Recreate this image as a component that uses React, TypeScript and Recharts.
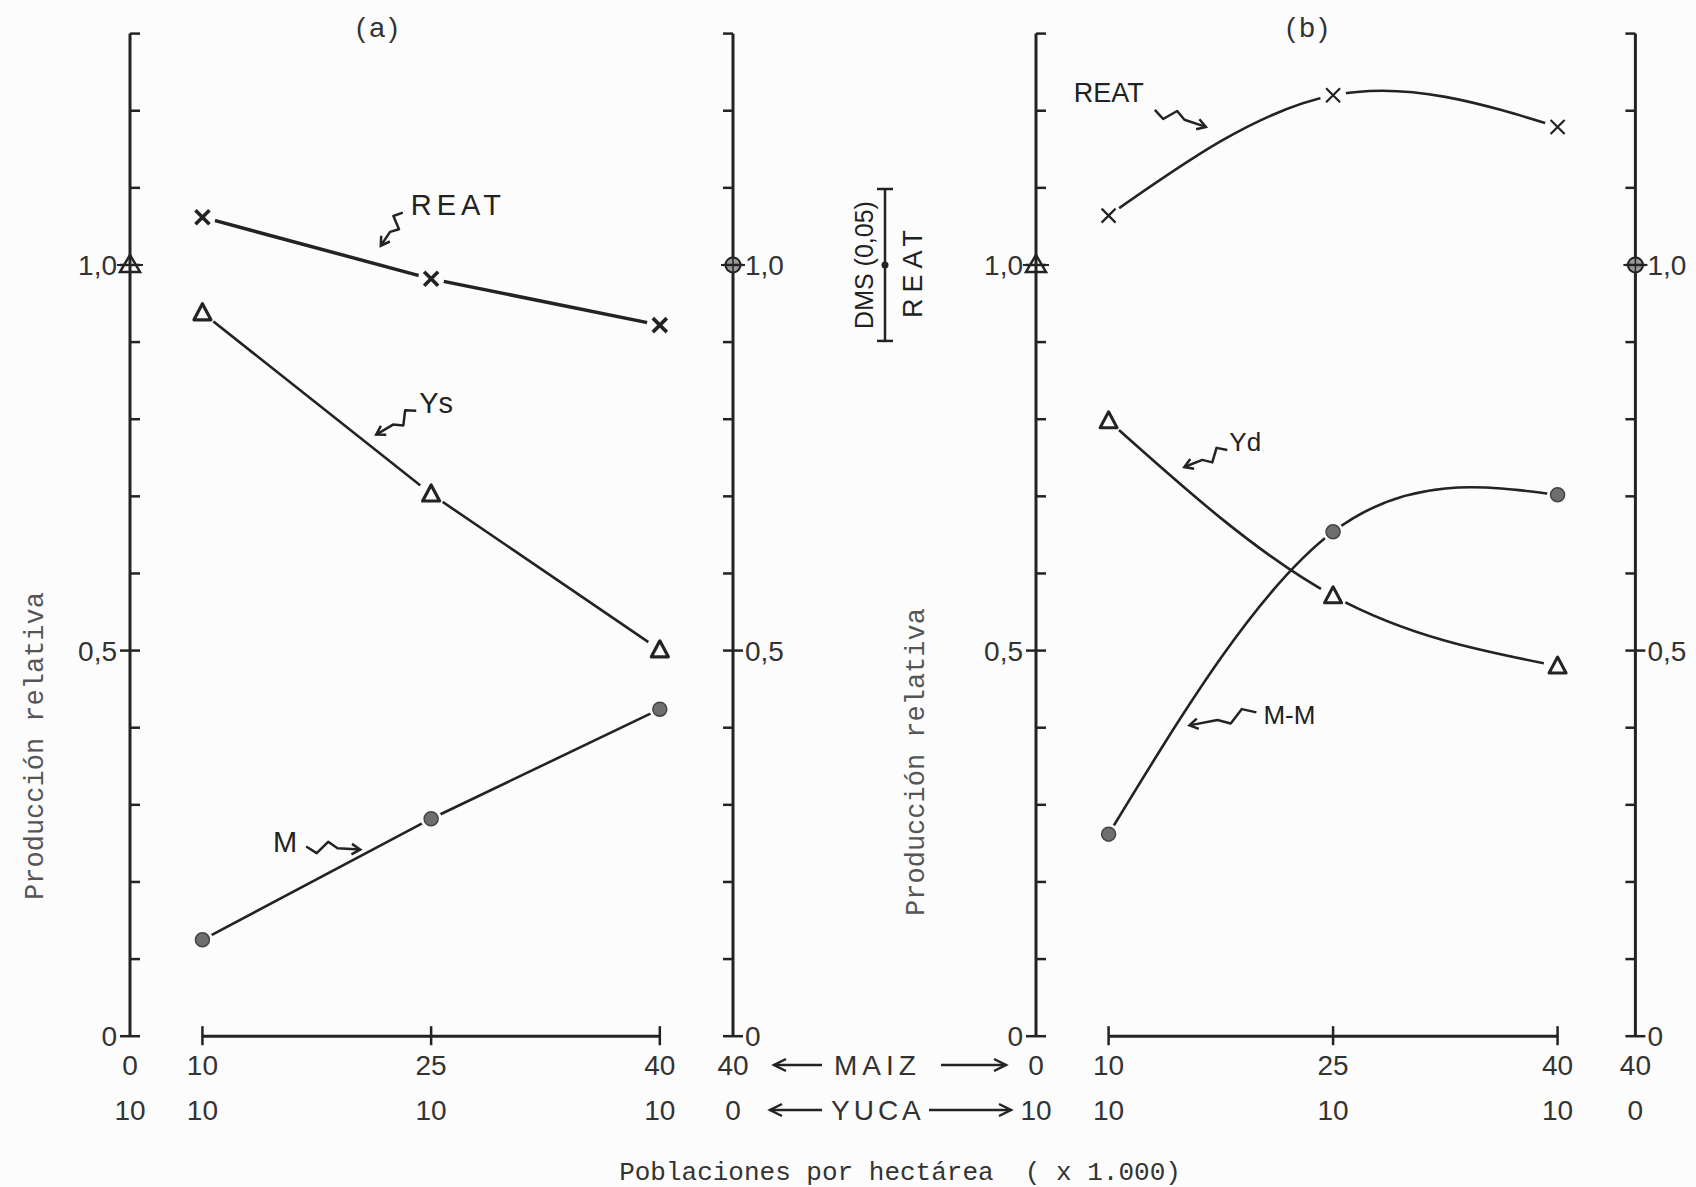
import React from "react";
import { LineChart, Line, XAxis, YAxis, ReferenceLine, ReferenceDot } from "recharts";

// poblaciones de maiz (x 1.000) en las asociaciones
const maiz = [10, 25, 40];

// (a) produccion relativa
const reatA = [1.062, 0.982, 0.922];
const ysA = [0.938, 0.703, 0.501];
const mA = [0.125, 0.282, 0.424];

// (b) produccion relativa
const reatB = [1.064, 1.22, 1.179];
const ydB = [0.798, 0.571, 0.48];
const mmB = [0.262, 0.654, 0.702];

// monocultivos (= 1,0)
const yucaSola = 1.0;
const maizSolo = 1.0;

// etiquetas del eje x (dos filas)
const maizLabels = ["0", "10", "25", "40", "40"];
const yucaLabels = ["10", "10", "10", "10", "0"];

const yTicks = [0, 0.1, 0.2, 0.3, 0.4, 0.5, 0.6, 0.7, 0.8, 0.9, 1.0, 1.1, 1.2, 1.3];
const yLabels: Record<string, string> = { "0": "0", "0.5": "0,5", "1": "1,0" };

const dms = 0.197;

const INK = "#232323";
const BG = "#fcfcfc";
const SANS = "'Liberation Sans', Arial, sans-serif";
const MONO = "'Liberation Mono', 'Courier New', monospace";

const TOP = 33.6;
const BOTTOM = 1036.2;
const H = 1187;
const Y_MAX = 1.3;

const domA: [number, number] = [5.25, 44.8];
const domB: [number, number] = [5.15, 45.2];

const rowsA = maiz.map((m, i) => ({ maiz: m, reat: reatA[i], ys: ysA[i], m: mA[i] }));
const rowsB = maiz.map((m, i) => ({ maiz: m, reat: reatB[i], yd: ydB[i], mm: mmB[i] }));

const notesA = [
  { x: 21.7, y: 1.025, text: "REAT", sx: 22, sy: -33, tx: 30, ty: -41, anchor: "start", ls: 5, fs: 29 },
  { x: 21.4, y: 0.78, text: "Ys", sx: 40, sy: -24, tx: 43, ty: -32, anchor: "start", ls: 0, fs: 29 },
  { x: 20.35, y: 0.242, text: "M", sx: -54, sy: -3, tx: -63, ty: -8, anchor: "end", ls: 0, fs: 29 },
];
const notesB = [
  { x: 16.5, y: 1.179, text: "REAT", sx: -51, sy: -17, tx: -132, ty: -35, anchor: "start", ls: 0, fs: 27 },
  { x: 15.06, y: 0.738, text: "Yd", sx: 43, sy: -17, tx: 45, ty: -25, anchor: "start", ls: 0, fs: 26 },
  { x: 15.4, y: 0.403, text: "M-M", sx: 67, sy: -13, tx: 74, ty: -11, anchor: "start", ls: 0, fs: 26 },
];

// ticks of both vertical axes; span = distance to the right-hand axis
function SideTicks(props: any) {
  const { x, y, payload, span } = props;
  const lab = yLabels[String(payload.value)];
  const rx = x + span;
  return (
    <g>
      <line x1={lab ? x - 10 : x} x2={x + 10} y1={y} y2={y} stroke={INK} strokeWidth={2.5} />
      {lab && (
        <text x={x - 13} y={y} dy="0.36em" textAnchor="end" fontFamily={SANS} fontSize={28} fill="#333">
          {lab}
        </text>
      )}
      <line x1={rx - 10} x2={lab ? rx + 10 : rx} y1={y} y2={y} stroke={INK} strokeWidth={2.5} />
      {lab && (
        <text x={rx + 12} y={y} dy="0.36em" textAnchor="start" fontFamily={SANS} fontSize={28} fill="#333">
          {lab}
        </text>
      )}
    </g>
  );
}

function BottomTick(props: any) {
  const { x, y, index } = props;
  const inner = index > 0 && index < maizLabels.length - 1;
  return (
    <g>
      {inner && <line x1={x} x2={x} y1={y - 10} y2={y + 9} stroke={INK} strokeWidth={2.5} />}
      <text x={x} y={y + 29} dy="0.36em" textAnchor="middle" fontFamily={SANS} fontSize={28} fill="#333">
        {maizLabels[index]}
      </text>
      <text x={x} y={y + 74} dy="0.36em" textAnchor="middle" fontFamily={SANS} fontSize={28} fill="#333">
        {yucaLabels[index]}
      </text>
    </g>
  );
}

function xMark(w: number) {
  return (p: any) => {
    const { cx, cy, index } = p;
    const s = 7;
    return (
      <g key={`x-${index}`}>
        <circle cx={cx} cy={cy} r={13} fill={BG} />
        <path d={`M${cx - s},${cy - s}L${cx + s},${cy + s}M${cx - s},${cy + s}L${cx + s},${cy - s}`} stroke={INK} strokeWidth={w} />
      </g>
    );
  };
}

function triMark(w: number) {
  return (p: any) => {
    const { cx, cy, index } = p;
    return (
      <g key={`t-${index}`}>
        <circle cx={cx} cy={cy} r={14} fill={BG} />
        <path d={`M${cx},${cy - 9}L${cx - 8.5},${cy + 7}L${cx + 8.5},${cy + 7}Z`} fill="none" stroke={INK} strokeWidth={w} strokeLinejoin="round" />
      </g>
    );
  };
}

function dotMark(p: any) {
  const { cx, cy, index } = p;
  return (
    <g key={`c-${index}`}>
      <circle cx={cx} cy={cy} r={10.5} fill={BG} />
      <circle cx={cx} cy={cy} r={7} fill="#6e6e6e" stroke="#444" strokeWidth={1.5} />
    </g>
  );
}

function AxisTri(p: any) {
  const { cx, cy } = p;
  return (
    <g>
      <line x1={cx - 13} x2={cx + 13} y1={cy} y2={cy} stroke={INK} strokeWidth={2} />
      <path d={`M${cx},${cy - 10}L${cx - 10},${cy + 7}L${cx + 10},${cy + 7}Z`} fill="none" stroke={INK} strokeWidth={2.5} />
    </g>
  );
}

function AxisCirc(p: any) {
  const { cx, cy } = p;
  return (
    <g>
      <circle cx={cx} cy={cy} r={7.5} fill="#999" stroke={INK} strokeWidth={2} />
      <line x1={cx - 12} x2={cx + 12} y1={cy} y2={cy} stroke={INK} strokeWidth={2} />
      <line x1={cx} x2={cx} y1={cy - 7} y2={cy + 7} stroke={INK} strokeWidth={1.5} />
    </g>
  );
}

function noteShape(n: any) {
  return (p: any) => {
    const { cx, cy } = p;
    const L = Math.hypot(n.sx, n.sy);
    const ux = -n.sx / L;
    const uy = -n.sy / L;
    const px = -uy;
    const py = ux;
    const a = 6;
    const P = (t: number, o: number) =>
      `${cx + n.sx + ux * L * t + px * o},${cy + n.sy + uy * L * t + py * o}`;
    const d = `M${P(0, 0)}L${P(0.2, a)}L${P(0.4, -a)}L${P(0.58, 0)}L${cx},${cy}`;
    const ang = Math.atan2(-uy, -ux);
    const h = 10;
    const h1x = cx + h * Math.cos(ang + 0.55);
    const h1y = cy + h * Math.sin(ang + 0.55);
    const h2x = cx + h * Math.cos(ang - 0.55);
    const h2y = cy + h * Math.sin(ang - 0.55);
    return (
      <g>
        <path d={d} fill="none" stroke={INK} strokeWidth={2.5} strokeLinejoin="round" />
        <path d={`M${h1x},${h1y}L${cx},${cy}L${h2x},${h2y}`} fill="none" stroke={INK} strokeWidth={2.5} />
        <text x={cx + n.tx} y={cy + n.ty} dy="0.36em" textAnchor={n.anchor} fontFamily={SANS}
          fontSize={n.fs} letterSpacing={n.ls} fill="#222">
          {n.text}
        </text>
      </g>
    );
  };
}

function yPix(v: number) {
  return TOP + ((Y_MAX - v) / Y_MAX) * (BOTTOM - TOP);
}

function ArrowH({ x1, x2, y }: { x1: number; x2: number; y: number }) {
  const dir = Math.sign(x2 - x1);
  return (
    <g stroke={INK} strokeWidth={2.5} fill="none">
      <line x1={x1} x2={x2} y1={y} y2={y} />
      <path d={`M${x2 - dir * 12},${y - 6}L${x2},${y}L${x2 - dir * 12},${y + 6}`} />
    </g>
  );
}

const axisLine = { stroke: INK, strokeWidth: 3 };

export default function App() {
  const common = { top: TOP, right: 0, bottom: 0, left: 0 };
  const dTop = yPix(1 + dms / 2);
  const dBot = yPix(1 - dms / 2);
  const dMid = yPix(1);
  return (
    <div style={{ position: "absolute", left: 0, top: 0, width: 1696, height: H, background: BG, overflow: "hidden" }}>
      <div style={{ position: "absolute", left: 0, top: 0 }}>
        <LineChart width={880} height={H} data={rowsA} margin={common}>
          <XAxis dataKey="maiz" type="number" domain={domA} ticks={[domA[0], 10, 25, 40, domA[1]]} interval={0}
            axisLine={false} tickLine={false} tickSize={0} tickMargin={0} height={H - BOTTOM} tick={<BottomTick />} />
          <YAxis yAxisId="l" orientation="left" width={130} domain={[0, Y_MAX]} ticks={yTicks} interval={0}
            axisLine={axisLine} tickLine={false} tickSize={0} tickMargin={0} tick={<SideTicks span={603} />} />
          <YAxis yAxisId="r" orientation="right" width={147} domain={[0, Y_MAX]} ticks={yTicks}
            axisLine={axisLine} tickLine={false} tick={false} />
          <ReferenceLine yAxisId="l" segment={[{ x: 10, y: 0 }, { x: 40, y: 0 }]} stroke={INK} strokeWidth={3} />
          <Line yAxisId="l" dataKey="reat" stroke={INK} strokeWidth={3.5} dot={xMark(3.6)} isAnimationActive={false} />
          <Line yAxisId="l" dataKey="ys" stroke={INK} strokeWidth={2.6} dot={triMark(3.2)} isAnimationActive={false} />
          <Line yAxisId="l" dataKey="m" stroke={INK} strokeWidth={2.6} dot={dotMark} isAnimationActive={false} />
          <ReferenceDot yAxisId="l" x={domA[0]} y={yucaSola} shape={AxisTri} />
          <ReferenceDot yAxisId="l" x={domA[1]} y={maizSolo} shape={AxisCirc} />
          {notesA.map((n) => (
            <ReferenceDot key={n.text} yAxisId="l" x={n.x} y={n.y} shape={noteShape(n)} />
          ))}
        </LineChart>
      </div>
      <div style={{ position: "absolute", left: 880, top: 0 }}>
        <LineChart width={816} height={H} data={rowsB} margin={common}>
          <XAxis dataKey="maiz" type="number" domain={domB} ticks={[domB[0], 10, 25, 40, domB[1]]} interval={0}
            axisLine={false} tickLine={false} tickSize={0} tickMargin={0} height={H - BOTTOM} tick={<BottomTick />} />
          <YAxis yAxisId="l" orientation="left" width={156} domain={[0, Y_MAX]} ticks={yTicks} interval={0}
            axisLine={axisLine} tickLine={false} tickSize={0} tickMargin={0} tick={<SideTicks span={599.4} />} />
          <YAxis yAxisId="r" orientation="right" width={60.6} domain={[0, Y_MAX]} ticks={yTicks}
            axisLine={axisLine} tickLine={false} tick={false} />
          <ReferenceLine yAxisId="l" segment={[{ x: 10, y: 0 }, { x: 40, y: 0 }]} stroke={INK} strokeWidth={3} />
          <Line yAxisId="l" type="natural" dataKey="reat" stroke={INK} strokeWidth={2.6} dot={xMark(2.2)} isAnimationActive={false} />
          <Line yAxisId="l" type="natural" dataKey="yd" stroke={INK} strokeWidth={2.6} dot={triMark(3)} isAnimationActive={false} />
          <Line yAxisId="l" type="natural" dataKey="mm" stroke={INK} strokeWidth={2.6} dot={dotMark} isAnimationActive={false} />
          <ReferenceDot yAxisId="l" x={domB[0]} y={yucaSola} shape={AxisTri} />
          <ReferenceDot yAxisId="l" x={domB[1]} y={maizSolo} shape={AxisCirc} />
          {notesB.map((n) => (
            <ReferenceDot key={n.text} yAxisId="l" x={n.x} y={n.y} shape={noteShape(n)} />
          ))}
        </LineChart>
      </div>
      <svg width={1696} height={H} style={{ position: "absolute", left: 0, top: 0, pointerEvents: "none" }}>
        <text x={379} y={27} dy="0.36em" textAnchor="middle" fontFamily={SANS} fontSize={28} fill="#333" letterSpacing={4}>(a)</text>
        <text x={1309} y={27} dy="0.36em" textAnchor="middle" fontFamily={SANS} fontSize={28} fill="#333" letterSpacing={4}>(b)</text>
        <text transform="translate(33,746) rotate(-90)" dy="0.36em" textAnchor="middle" fontFamily={MONO} fontSize={27} fill="#555">
          Producción relativa
        </text>
        <text transform="translate(914,762) rotate(-90)" dy="0.36em" textAnchor="middle" fontFamily={MONO} fontSize={27} fill="#555">
          Producción relativa
        </text>
        <text x={900} y={1171} dy="0.36em" textAnchor="middle" fontFamily={MONO} fontSize={26} fill="#333" xmlSpace="preserve">
          Poblaciones por hectárea  ( x 1.000)
        </text>
        <ArrowH x1={822} x2={774} y={1065} />
        <text x={834} y={1065} dy="0.36em" textAnchor="start" fontFamily={SANS} fontSize={28} fill="#333" letterSpacing={5}>MAIZ</text>
        <ArrowH x1={941} x2={1006} y={1065} />
        <ArrowH x1={822} x2={770} y={1110} />
        <text x={831} y={1110} dy="0.36em" textAnchor="start" fontFamily={SANS} fontSize={28} fill="#333" letterSpacing={4}>YUCA</text>
        <ArrowH x1={929} x2={1011} y={1110} />
        <g stroke={INK} strokeWidth={2.5}>
          <line x1={885} x2={885} y1={dTop} y2={dBot} />
          <line x1={877} x2={893} y1={dTop} y2={dTop} />
          <line x1={877} x2={893} y1={dBot} y2={dBot} />
        </g>
        <circle cx={885} cy={dMid} r={3.5} fill={INK} />
        <text transform={`translate(864,${dMid}) rotate(-90)`} dy="0.36em" textAnchor="middle" fontFamily={SANS} fontSize={25} fill="#222">
          DMS (0,05)
        </text>
        <text transform={`translate(912,${dMid + 6}) rotate(-90)`} dy="0.36em" textAnchor="middle" fontFamily={SANS} fontSize={27} fill="#222" letterSpacing={6}>
          REAT
        </text>
      </svg>
    </div>
  );
}
